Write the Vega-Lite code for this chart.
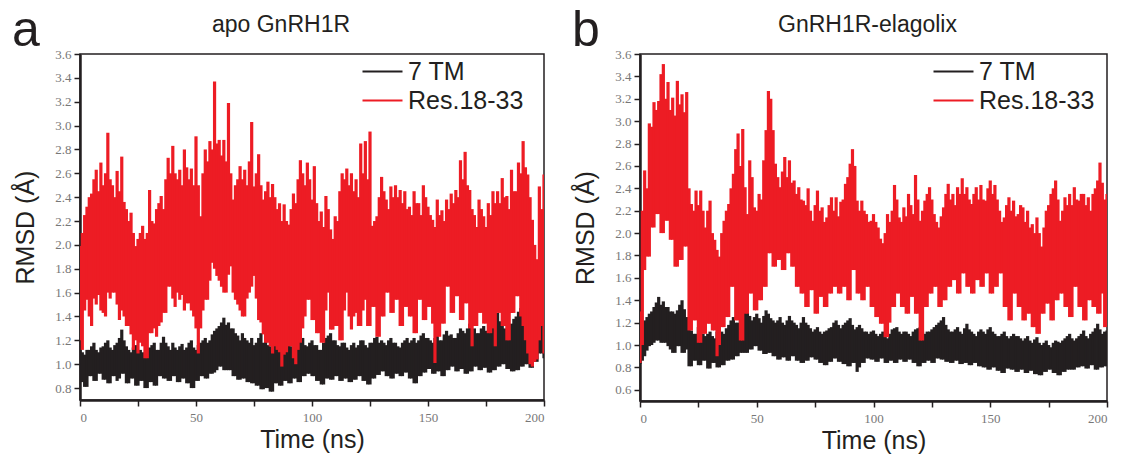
{
"$schema": "https://vega.github.io/schema/vega-lite/v6.json",
"background": "white",
"padding": {"left": 12, "top": 6, "right": 0, "bottom": 0},
"config": {
  "view": {"stroke": "#231F20", "strokeWidth": 1.5},
  "font": "Liberation Sans",
  "title": {"font": "Liberation Sans", "fontWeight": "normal", "color": "#231F20"},
  "axis": {"labelFont": "Liberation Serif", "labelFontSize": 13, "labelColor": "#777777", "labelOverlap": false, "titleFont": "Liberation Sans", "titleFontSize": 25, "titleFontWeight": "normal", "titleColor": "#231F20", "domainColor": "#231F20", "domainWidth": 2.5, "tickColor": "#231F20", "tickWidth": 1.5, "tickSize": 6, "grid": false},
  "axisX": {"labelPadding": 5, "titlePadding": 3},
  "axisY": {"labelPadding": 3, "titlePadding": 16},
  "legend": {"orient": "none", "legendX": 289, "legendY": 4, "padding": 0, "title": null, "labelFont": "Liberation Sans", "labelFontSize": 25, "labelColor": "#231F20", "labelLimit": 400, "labelOffset": 12, "symbolType": "M-1.6,0H1.6", "symbolSize": 625, "symbolStrokeWidth": 2, "rowPadding": 2},
  "concat": {"spacing": 26}
},
"datasets": {
"A": [
{"t":0,"kl":0.85,"kh":1.15,"rl":1.20,"rh":1.99},{"t":1,"kl":0.85,"kh":1.10,"rl":1.12,"rh":2.10},{"t":2,"kl":0.81,"kh":1.08,"rl":1.45,"rh":2.25},{"t":3,"kl":0.81,"kh":1.12,"rl":1.54,"rh":2.32},{"t":4,"kl":0.90,"kh":1.12,"rl":1.40,"rh":2.40},{"t":5,"kl":0.90,"kh":1.15,"rl":1.32,"rh":2.43},{"t":6,"kl":0.86,"kh":1.18,"rl":1.55,"rh":2.55},{"t":7,"kl":0.86,"kh":1.12,"rl":1.50,"rh":2.63},{"t":8,"kl":0.92,"kh":1.10,"rl":1.58,"rh":2.45},{"t":9,"kl":0.92,"kh":1.14,"rl":1.45,"rh":2.69},
{"t":10,"kl":0.87,"kh":1.15,"rl":1.43,"rh":2.50},{"t":11,"kl":0.87,"kh":1.18,"rl":1.40,"rh":2.60},{"t":12,"kl":0.84,"kh":1.20,"rl":1.60,"rh":2.94},{"t":13,"kl":0.84,"kh":1.14,"rl":1.55,"rh":2.55},{"t":14,"kl":0.90,"kh":1.12,"rl":1.60,"rh":2.50},{"t":15,"kl":0.90,"kh":1.16,"rl":1.60,"rh":2.40},{"t":16,"kl":0.86,"kh":1.18,"rl":1.50,"rh":2.62},{"t":17,"kl":0.88,"kh":1.22,"rl":1.37,"rh":2.45},{"t":18,"kl":0.92,"kh":1.29,"rl":1.45,"rh":2.74},{"t":19,"kl":0.92,"kh":1.20,"rl":1.40,"rh":2.36},
{"t":20,"kl":0.84,"kh":1.15,"rl":1.32,"rh":2.30},{"t":21,"kl":0.84,"kh":1.12,"rl":1.32,"rh":2.20},{"t":22,"kl":0.88,"kh":1.10,"rl":1.25,"rh":2.27},{"t":23,"kl":0.88,"kh":1.14,"rl":1.12,"rh":2.10},{"t":24,"kl":0.82,"kh":1.16,"rl":1.20,"rh":1.99},{"t":25,"kl":0.82,"kh":1.10,"rl":1.09,"rh":2.05},{"t":26,"kl":0.86,"kh":1.12,"rl":1.18,"rh":2.10},{"t":27,"kl":0.86,"kh":1.10,"rl":1.15,"rh":2.16},{"t":28,"kl":0.80,"kh":1.08,"rl":1.05,"rh":2.05},{"t":29,"kl":0.80,"kh":1.12,"rl":1.05,"rh":2.10},
{"t":30,"kl":0.85,"kh":1.14,"rl":1.26,"rh":2.46},{"t":31,"kl":0.85,"kh":1.16,"rl":1.26,"rh":2.20},{"t":32,"kl":0.82,"kh":1.18,"rl":1.30,"rh":2.18},{"t":33,"kl":0.82,"kh":1.12,"rl":1.23,"rh":2.30},{"t":34,"kl":0.90,"kh":1.12,"rl":1.32,"rh":2.35},{"t":35,"kl":0.90,"kh":1.18,"rl":1.35,"rh":2.41},{"t":36,"kl":0.88,"kh":1.23,"rl":1.43,"rh":2.30},{"t":37,"kl":0.88,"kh":1.18,"rl":1.43,"rh":2.55},{"t":38,"kl":0.86,"kh":1.15,"rl":1.65,"rh":2.73},{"t":39,"kl":0.86,"kh":1.12,"rl":1.65,"rh":2.60},
{"t":40,"kl":0.90,"kh":1.18,"rl":1.55,"rh":2.83},{"t":41,"kl":0.90,"kh":1.14,"rl":1.48,"rh":2.60},{"t":42,"kl":0.85,"kh":1.12,"rl":1.60,"rh":2.55},{"t":43,"kl":0.85,"kh":1.15,"rl":1.54,"rh":2.63},{"t":44,"kl":0.88,"kh":1.17,"rl":1.58,"rh":2.50},{"t":45,"kl":0.88,"kh":1.12,"rl":1.45,"rh":2.80},{"t":46,"kl":0.84,"kh":1.14,"rl":1.51,"rh":2.65},{"t":47,"kl":0.84,"kh":1.18,"rl":1.51,"rh":2.55},{"t":48,"kl":0.80,"kh":1.20,"rl":1.45,"rh":2.64},{"t":49,"kl":0.80,"kh":1.14,"rl":1.40,"rh":2.50},
{"t":50,"kl":0.86,"kh":1.12,"rl":1.30,"rh":2.91},{"t":51,"kl":0.86,"kh":1.16,"rl":1.09,"rh":2.50},{"t":52,"kl":0.90,"kh":1.18,"rl":1.30,"rh":2.24},{"t":53,"kl":0.90,"kh":1.20,"rl":1.45,"rh":2.60},{"t":54,"kl":0.88,"kh":1.22,"rl":1.54,"rh":2.80},{"t":55,"kl":0.88,"kh":1.18,"rl":1.54,"rh":2.70},{"t":56,"kl":0.92,"kh":1.20,"rl":1.70,"rh":2.87},{"t":57,"kl":0.92,"kh":1.25,"rl":1.85,"rh":2.80},{"t":58,"kl":0.93,"kh":1.28,"rl":1.80,"rh":3.37},{"t":59,"kl":0.95,"kh":1.30,"rl":1.74,"rh":2.85},
{"t":60,"kl":0.98,"kh":1.32,"rl":1.70,"rh":2.88},{"t":61,"kl":0.98,"kh":1.35,"rl":1.65,"rh":2.75},{"t":62,"kl":0.95,"kh":1.39,"rl":1.60,"rh":2.88},{"t":63,"kl":0.95,"kh":1.33,"rl":1.60,"rh":2.70},{"t":64,"kl":0.95,"kh":1.35,"rl":1.75,"rh":3.19},{"t":65,"kl":0.95,"kh":1.30,"rl":1.82,"rh":2.60},{"t":66,"kl":0.90,"kh":1.30,"rl":1.60,"rh":2.38},{"t":67,"kl":0.90,"kh":1.26,"rl":1.54,"rh":2.50},{"t":68,"kl":0.87,"kh":1.24,"rl":1.50,"rh":2.55},{"t":69,"kl":0.87,"kh":1.20,"rl":1.45,"rh":2.66},
{"t":70,"kl":0.88,"kh":1.26,"rl":1.40,"rh":2.55},{"t":71,"kl":0.88,"kh":1.22,"rl":1.40,"rh":2.63},{"t":72,"kl":0.85,"kh":1.20,"rl":1.55,"rh":2.50},{"t":73,"kl":0.85,"kh":1.18,"rl":1.60,"rh":2.70},{"t":74,"kl":0.84,"kh":1.22,"rl":1.65,"rh":3.03},{"t":75,"kl":0.84,"kh":1.16,"rl":1.74,"rh":2.49},{"t":76,"kl":0.82,"kh":1.18,"rl":1.55,"rh":2.60},{"t":77,"kl":0.82,"kh":1.22,"rl":1.37,"rh":2.76},{"t":78,"kl":0.79,"kh":1.26,"rl":1.35,"rh":2.50},{"t":79,"kl":0.79,"kh":1.18,"rl":1.25,"rh":2.38},
{"t":80,"kl":0.80,"kh":1.20,"rl":1.18,"rh":2.45},{"t":81,"kl":0.80,"kh":1.16,"rl":1.18,"rh":2.53},{"t":82,"kl":0.77,"kh":1.15,"rl":1.15,"rh":2.40},{"t":83,"kl":0.77,"kh":1.12,"rl":1.09,"rh":2.51},{"t":84,"kl":0.84,"kh":1.18,"rl":1.15,"rh":2.40},{"t":85,"kl":0.84,"kh":1.14,"rl":1.12,"rh":2.30},{"t":86,"kl":0.82,"kh":1.12,"rl":1.10,"rh":2.35},{"t":87,"kl":0.82,"kh":1.16,"rl":0.98,"rh":2.20},{"t":88,"kl":0.86,"kh":1.16,"rl":1.08,"rh":2.34},{"t":89,"kl":0.86,"kh":1.20,"rl":1.10,"rh":2.20},
{"t":90,"kl":0.84,"kh":1.20,"rl":1.15,"rh":2.17},{"t":91,"kl":0.84,"kh":1.15,"rl":1.15,"rh":2.30},{"t":92,"kl":0.88,"kh":1.14,"rl":1.05,"rh":2.43},{"t":93,"kl":0.88,"kh":1.18,"rl":1.00,"rh":2.35},{"t":94,"kl":0.85,"kh":1.18,"rl":1.12,"rh":2.55},{"t":95,"kl":0.85,"kh":1.22,"rl":1.18,"rh":2.71},{"t":96,"kl":0.90,"kh":1.22,"rl":1.30,"rh":2.60},{"t":97,"kl":0.90,"kh":1.16,"rl":1.40,"rh":2.50},{"t":98,"kl":0.92,"kh":1.15,"rl":1.54,"rh":2.69},{"t":99,"kl":0.92,"kh":1.18,"rl":1.54,"rh":2.55},
{"t":100,"kl":0.90,"kh":1.20,"rl":1.37,"rh":2.38},{"t":101,"kl":0.90,"kh":1.16,"rl":1.37,"rh":2.66},{"t":102,"kl":0.86,"kh":1.16,"rl":1.26,"rh":2.35},{"t":103,"kl":0.86,"kh":1.12,"rl":1.26,"rh":2.20},{"t":104,"kl":0.83,"kh":1.12,"rl":1.18,"rh":2.28},{"t":105,"kl":0.83,"kh":1.18,"rl":1.18,"rh":2.15},{"t":106,"kl":0.88,"kh":1.22,"rl":1.45,"rh":2.41},{"t":107,"kl":0.88,"kh":1.24,"rl":1.60,"rh":2.30},{"t":108,"kl":0.87,"kh":1.26,"rl":1.29,"rh":2.13},{"t":109,"kl":0.87,"kh":1.20,"rl":1.29,"rh":2.05},
{"t":110,"kl":0.90,"kh":1.20,"rl":1.32,"rh":2.24},{"t":111,"kl":0.90,"kh":1.16,"rl":1.32,"rh":2.20},{"t":112,"kl":0.86,"kh":1.15,"rl":1.20,"rh":2.45},{"t":113,"kl":0.86,"kh":1.18,"rl":1.20,"rh":2.60},{"t":114,"kl":0.88,"kh":1.18,"rl":1.45,"rh":2.55},{"t":115,"kl":0.88,"kh":1.14,"rl":1.60,"rh":2.64},{"t":116,"kl":0.85,"kh":1.12,"rl":1.40,"rh":2.50},{"t":117,"kl":0.85,"kh":1.16,"rl":1.29,"rh":2.60},{"t":118,"kl":0.87,"kh":1.18,"rl":1.40,"rh":2.45},{"t":119,"kl":0.87,"kh":1.14,"rl":1.43,"rh":2.55},
{"t":120,"kl":0.90,"kh":1.16,"rl":1.32,"rh":2.40},{"t":121,"kl":0.90,"kh":1.20,"rl":1.32,"rh":2.85},{"t":122,"kl":0.86,"kh":1.20,"rl":1.45,"rh":2.60},{"t":123,"kl":0.86,"kh":1.16,"rl":1.54,"rh":2.87},{"t":124,"kl":0.83,"kh":1.14,"rl":1.32,"rh":2.55},{"t":125,"kl":0.83,"kh":1.18,"rl":1.32,"rh":2.95},{"t":126,"kl":0.88,"kh":1.18,"rl":1.48,"rh":2.16},{"t":127,"kl":0.88,"kh":1.22,"rl":1.48,"rh":2.20},{"t":128,"kl":0.91,"kh":1.23,"rl":1.23,"rh":2.24},{"t":129,"kl":0.91,"kh":1.18,"rl":1.23,"rh":2.40},
{"t":130,"kl":0.94,"kh":1.20,"rl":1.40,"rh":2.57},{"t":131,"kl":0.94,"kh":1.18,"rl":1.40,"rh":2.45},{"t":132,"kl":0.90,"kh":1.16,"rl":1.60,"rh":2.38},{"t":133,"kl":0.90,"kh":1.20,"rl":1.60,"rh":2.30},{"t":134,"kl":0.88,"kh":1.22,"rl":1.43,"rh":2.49},{"t":135,"kl":0.88,"kh":1.18,"rl":1.43,"rh":2.40},{"t":136,"kl":0.92,"kh":1.18,"rl":1.54,"rh":2.50},{"t":137,"kl":0.92,"kh":1.15,"rl":1.54,"rh":2.40},{"t":138,"kl":0.90,"kh":1.14,"rl":1.32,"rh":2.46},{"t":139,"kl":0.90,"kh":1.18,"rl":1.32,"rh":2.35},
{"t":140,"kl":0.93,"kh":1.20,"rl":1.48,"rh":2.45},{"t":141,"kl":0.93,"kh":1.22,"rl":1.48,"rh":2.30},{"t":142,"kl":0.88,"kh":1.18,"rl":1.40,"rh":2.32},{"t":143,"kl":0.88,"kh":1.20,"rl":1.40,"rh":2.25},{"t":144,"kl":0.84,"kh":1.22,"rl":1.26,"rh":2.45},{"t":145,"kl":0.84,"kh":1.18,"rl":1.26,"rh":2.35},{"t":146,"kl":0.90,"kh":1.20,"rl":1.54,"rh":2.35},{"t":147,"kl":0.90,"kh":1.24,"rl":1.54,"rh":2.25},{"t":148,"kl":0.93,"kh":1.26,"rl":1.37,"rh":2.50},{"t":149,"kl":0.93,"kh":1.22,"rl":1.37,"rh":2.40},
{"t":150,"kl":0.96,"kh":1.22,"rl":1.48,"rh":2.32},{"t":151,"kl":0.96,"kh":1.20,"rl":1.48,"rh":2.25},{"t":152,"kl":0.92,"kh":1.18,"rl":1.34,"rh":2.21},{"t":153,"kl":0.92,"kh":1.22,"rl":1.01,"rh":2.15},{"t":154,"kl":0.94,"kh":1.24,"rl":1.23,"rh":2.38},{"t":155,"kl":0.94,"kh":1.20,"rl":1.23,"rh":2.25},{"t":156,"kl":0.90,"kh":1.20,"rl":1.34,"rh":2.29},{"t":157,"kl":0.90,"kh":1.25,"rl":1.34,"rh":2.20},{"t":158,"kl":0.95,"kh":1.28,"rl":1.65,"rh":2.38},{"t":159,"kl":0.95,"kh":1.24,"rl":1.65,"rh":2.30},
{"t":160,"kl":0.98,"kh":1.25,"rl":1.43,"rh":2.43},{"t":161,"kl":0.98,"kh":1.22,"rl":1.43,"rh":2.35},{"t":162,"kl":0.94,"kh":1.22,"rl":1.57,"rh":2.46},{"t":163,"kl":0.94,"kh":1.26,"rl":1.57,"rh":2.40},{"t":164,"kl":0.96,"kh":1.30,"rl":1.37,"rh":2.71},{"t":165,"kl":0.96,"kh":1.28,"rl":1.37,"rh":2.55},{"t":166,"kl":0.92,"kh":1.26,"rl":1.51,"rh":2.78},{"t":167,"kl":0.92,"kh":1.30,"rl":1.51,"rh":2.50},{"t":168,"kl":0.94,"kh":1.34,"rl":1.30,"rh":2.46},{"t":169,"kl":0.94,"kh":1.28,"rl":1.15,"rh":2.30},
{"t":170,"kl":0.98,"kh":1.30,"rl":1.32,"rh":2.25},{"t":171,"kl":0.98,"kh":1.26,"rl":1.32,"rh":2.15},{"t":172,"kl":0.95,"kh":1.26,"rl":1.43,"rh":2.38},{"t":173,"kl":0.95,"kh":1.30,"rl":1.43,"rh":2.30},{"t":174,"kl":0.97,"kh":1.32,"rl":1.34,"rh":2.24},{"t":175,"kl":0.97,"kh":1.28,"rl":1.34,"rh":2.15},{"t":176,"kl":0.93,"kh":1.28,"rl":1.26,"rh":2.35},{"t":177,"kl":0.93,"kh":1.32,"rl":1.26,"rh":2.25},{"t":178,"kl":0.95,"kh":1.36,"rl":1.30,"rh":2.45},{"t":179,"kl":0.95,"kh":1.38,"rl":1.15,"rh":2.35},
{"t":180,"kl":0.98,"kh":1.43,"rl":1.43,"rh":2.45},{"t":181,"kl":0.98,"kh":1.36,"rl":1.43,"rh":2.35},{"t":182,"kl":1.00,"kh":1.32,"rl":1.32,"rh":2.56},{"t":183,"kl":1.00,"kh":1.30,"rl":1.32,"rh":2.40},{"t":184,"kl":0.96,"kh":1.28,"rl":1.20,"rh":2.41},{"t":185,"kl":0.96,"kh":1.32,"rl":1.20,"rh":2.30},{"t":186,"kl":0.94,"kh":1.34,"rl":1.43,"rh":2.63},{"t":187,"kl":0.94,"kh":1.38,"rl":1.43,"rh":2.45},{"t":188,"kl":0.95,"kh":1.40,"rl":1.57,"rh":2.45},{"t":189,"kl":0.95,"kh":1.44,"rl":1.57,"rh":2.69},
{"t":190,"kl":0.98,"kh":1.47,"rl":1.40,"rh":2.60},{"t":191,"kl":0.98,"kh":1.42,"rl":1.32,"rh":2.87},{"t":192,"kl":1.00,"kh":1.40,"rl":1.20,"rh":2.65},{"t":193,"kl":1.00,"kh":1.35,"rl":1.09,"rh":2.59},{"t":194,"kl":0.97,"kh":1.30,"rl":1.00,"rh":2.40},{"t":195,"kl":0.97,"kh":1.33,"rl":0.98,"rh":2.21},{"t":196,"kl":1.02,"kh":1.37,"rl":1.02,"rh":2.00},{"t":197,"kl":1.02,"kh":1.30,"rl":1.04,"rh":1.88},{"t":198,"kl":1.09,"kh":1.28,"rl":1.20,"rh":2.49},{"t":199,"kl":1.09,"kh":1.35,"rl":1.32,"rh":2.30},
{"t":200,"kl":1.05,"kh":1.37,"rl":1.09,"rh":2.59}
],
"B": [
{"t":0,"kl":0.83,"kh":0.95,"rl":0.84,"rh":1.30},{"t":1,"kl":0.86,"kh":1.15,"rl":1.00,"rh":2.20},{"t":2,"kl":0.90,"kh":1.22,"rl":1.67,"rh":2.56},{"t":3,"kl":0.95,"kh":1.25,"rl":1.79,"rh":2.40},{"t":4,"kl":0.99,"kh":1.28,"rl":1.79,"rh":2.98},{"t":5,"kl":1.00,"kh":1.30,"rl":2.05,"rh":2.95},{"t":6,"kl":1.02,"kh":1.34,"rl":2.05,"rh":3.17},{"t":7,"kl":1.04,"kh":1.38,"rl":2.17,"rh":3.10},{"t":8,"kl":1.04,"kh":1.43,"rl":2.17,"rh":3.18},{"t":9,"kl":1.02,"kh":1.36,"rl":2.00,"rh":3.42},
{"t":10,"kl":1.02,"kh":1.39,"rl":2.00,"rh":3.51},{"t":11,"kl":1.02,"kh":1.34,"rl":2.11,"rh":3.20},{"t":12,"kl":0.99,"kh":1.34,"rl":2.11,"rh":3.35},{"t":13,"kl":0.96,"kh":1.30,"rl":1.94,"rh":3.10},{"t":14,"kl":0.93,"kh":1.30,"rl":1.94,"rh":3.21},{"t":15,"kl":0.93,"kh":1.28,"rl":1.70,"rh":3.05},{"t":16,"kl":0.99,"kh":1.31,"rl":1.70,"rh":3.36},{"t":17,"kl":0.99,"kh":1.36,"rl":1.76,"rh":3.15},{"t":18,"kl":0.93,"kh":1.40,"rl":1.76,"rh":3.24},{"t":19,"kl":0.93,"kh":1.32,"rl":1.88,"rh":3.08},
{"t":20,"kl":0.96,"kh":1.25,"rl":1.88,"rh":3.26},{"t":21,"kl":0.81,"kh":1.15,"rl":1.13,"rh":2.40},{"t":22,"kl":0.81,"kh":1.13,"rl":1.13,"rh":2.26},{"t":23,"kl":0.86,"kh":1.10,"rl":1.22,"rh":2.20},{"t":24,"kl":0.86,"kh":1.10,"rl":1.22,"rh":2.38},{"t":25,"kl":0.82,"kh":1.16,"rl":1.02,"rh":2.25},{"t":26,"kl":0.82,"kh":1.16,"rl":1.02,"rh":2.38},{"t":27,"kl":0.86,"kh":1.10,"rl":1.10,"rh":2.20},{"t":28,"kl":0.86,"kh":1.08,"rl":1.10,"rh":2.05},{"t":29,"kl":0.79,"kh":1.10,"rl":1.19,"rh":2.20},
{"t":30,"kl":0.79,"kh":1.12,"rl":1.19,"rh":2.29},{"t":31,"kl":0.84,"kh":1.08,"rl":1.13,"rh":2.00},{"t":32,"kl":0.84,"kh":1.06,"rl":1.13,"rh":1.94},{"t":33,"kl":0.80,"kh":1.12,"rl":0.90,"rh":1.85},{"t":34,"kl":0.80,"kh":1.16,"rl":1.00,"rh":1.79},{"t":35,"kl":0.82,"kh":1.12,"rl":1.16,"rh":2.00},{"t":36,"kl":0.82,"kh":1.10,"rl":1.16,"rh":2.11},{"t":37,"kl":0.86,"kh":1.15,"rl":1.25,"rh":2.20},{"t":38,"kl":0.86,"kh":1.18,"rl":1.25,"rh":2.26},{"t":39,"kl":0.87,"kh":1.22,"rl":1.52,"rh":2.40},
{"t":40,"kl":0.87,"kh":1.25,"rl":1.52,"rh":2.53},{"t":41,"kl":0.90,"kh":1.20,"rl":1.22,"rh":2.75},{"t":42,"kl":0.90,"kh":1.20,"rl":1.22,"rh":2.89},{"t":43,"kl":0.93,"kh":1.24,"rl":1.04,"rh":2.60},{"t":44,"kl":0.93,"kh":1.26,"rl":1.04,"rh":2.93},{"t":45,"kl":0.93,"kh":1.31,"rl":1.28,"rh":2.41},{"t":46,"kl":0.93,"kh":1.31,"rl":1.28,"rh":2.17},{"t":47,"kl":0.96,"kh":1.26,"rl":1.46,"rh":2.65},{"t":48,"kl":0.96,"kh":1.22,"rl":1.46,"rh":2.50},{"t":49,"kl":0.99,"kh":1.25,"rl":1.31,"rh":2.23},
{"t":50,"kl":0.99,"kh":1.28,"rl":1.31,"rh":2.20},{"t":51,"kl":0.95,"kh":1.24,"rl":1.40,"rh":2.35},{"t":52,"kl":0.95,"kh":1.20,"rl":1.40,"rh":2.30},{"t":53,"kl":0.92,"kh":1.26,"rl":1.52,"rh":2.65},{"t":54,"kl":0.92,"kh":1.31,"rl":1.52,"rh":2.92},{"t":55,"kl":0.93,"kh":1.28,"rl":1.82,"rh":3.27},{"t":56,"kl":0.93,"kh":1.24,"rl":1.82,"rh":3.20},{"t":57,"kl":0.90,"kh":1.22,"rl":1.70,"rh":2.92},{"t":58,"kl":0.90,"kh":1.20,"rl":1.70,"rh":2.62},{"t":59,"kl":0.87,"kh":1.22,"rl":1.76,"rh":2.50},
{"t":60,"kl":0.87,"kh":1.25,"rl":1.76,"rh":2.41},{"t":61,"kl":0.89,"kh":1.20,"rl":1.67,"rh":2.55},{"t":62,"kl":0.89,"kh":1.18,"rl":1.67,"rh":2.68},{"t":63,"kl":0.86,"kh":1.22,"rl":1.82,"rh":2.50},{"t":64,"kl":0.86,"kh":1.26,"rl":1.82,"rh":2.65},{"t":65,"kl":0.90,"kh":1.22,"rl":1.70,"rh":2.45},{"t":66,"kl":0.90,"kh":1.20,"rl":1.70,"rh":2.47},{"t":67,"kl":0.86,"kh":1.18,"rl":1.52,"rh":2.35},{"t":68,"kl":0.86,"kh":1.15,"rl":1.52,"rh":2.41},{"t":69,"kl":0.84,"kh":1.20,"rl":1.46,"rh":2.30},
{"t":70,"kl":0.84,"kh":1.25,"rl":1.46,"rh":2.29},{"t":71,"kl":0.86,"kh":1.20,"rl":1.34,"rh":2.25},{"t":72,"kl":0.86,"kh":1.18,"rl":1.34,"rh":2.40},{"t":73,"kl":0.89,"kh":1.15,"rl":1.49,"rh":2.20},{"t":74,"kl":0.89,"kh":1.12,"rl":1.49,"rh":2.11},{"t":75,"kl":0.87,"kh":1.14,"rl":1.28,"rh":2.25},{"t":76,"kl":0.87,"kh":1.16,"rl":1.28,"rh":2.38},{"t":77,"kl":0.84,"kh":1.12,"rl":1.43,"rh":2.20},{"t":78,"kl":0.84,"kh":1.10,"rl":1.43,"rh":2.23},{"t":79,"kl":0.82,"kh":1.12,"rl":1.34,"rh":2.10},
{"t":80,"kl":0.82,"kh":1.13,"rl":1.34,"rh":2.14},{"t":81,"kl":0.85,"kh":1.15,"rl":1.46,"rh":2.25},{"t":82,"kl":0.85,"kh":1.16,"rl":1.46,"rh":2.32},{"t":83,"kl":0.88,"kh":1.20,"rl":1.52,"rh":2.20},{"t":84,"kl":0.88,"kh":1.22,"rl":1.52,"rh":2.32},{"t":85,"kl":0.85,"kh":1.18,"rl":1.46,"rh":2.15},{"t":86,"kl":0.85,"kh":1.15,"rl":1.46,"rh":2.28},{"t":87,"kl":0.83,"kh":1.18,"rl":1.52,"rh":2.30},{"t":88,"kl":0.83,"kh":1.20,"rl":1.52,"rh":2.44},{"t":89,"kl":0.81,"kh":1.22,"rl":1.40,"rh":2.50},
{"t":90,"kl":0.81,"kh":1.24,"rl":1.40,"rh":2.62},{"t":91,"kl":0.84,"kh":1.18,"rl":1.67,"rh":2.75},{"t":92,"kl":0.84,"kh":1.14,"rl":1.67,"rh":2.60},{"t":93,"kl":0.76,"kh":1.16,"rl":1.46,"rh":2.29},{"t":94,"kl":0.80,"kh":1.18,"rl":1.46,"rh":2.20},{"t":95,"kl":0.84,"kh":1.15,"rl":1.40,"rh":2.29},{"t":96,"kl":0.84,"kh":1.12,"rl":1.40,"rh":2.20},{"t":97,"kl":0.88,"kh":1.12,"rl":1.52,"rh":2.17},{"t":98,"kl":0.88,"kh":1.10,"rl":1.52,"rh":2.10},{"t":99,"kl":0.87,"kh":1.12,"rl":1.34,"rh":2.11},
{"t":100,"kl":0.87,"kh":1.13,"rl":1.34,"rh":2.17},{"t":101,"kl":0.85,"kh":1.10,"rl":1.25,"rh":2.10},{"t":102,"kl":0.85,"kh":1.08,"rl":1.25,"rh":2.05},{"t":103,"kl":0.88,"kh":1.10,"rl":1.19,"rh":1.95},{"t":104,"kl":0.88,"kh":1.12,"rl":1.19,"rh":1.91},{"t":105,"kl":0.84,"kh":1.08,"rl":1.07,"rh":2.00},{"t":106,"kl":0.84,"kh":1.06,"rl":1.07,"rh":2.17},{"t":107,"kl":0.86,"kh":1.10,"rl":1.20,"rh":2.10},{"t":108,"kl":0.86,"kh":1.14,"rl":1.34,"rh":2.20},{"t":109,"kl":0.84,"kh":1.15,"rl":1.34,"rh":2.43},
{"t":110,"kl":0.84,"kh":1.16,"rl":1.46,"rh":2.30},{"t":111,"kl":0.87,"kh":1.12,"rl":1.46,"rh":2.14},{"t":112,"kl":0.87,"kh":1.10,"rl":1.34,"rh":2.10},{"t":113,"kl":0.85,"kh":1.12,"rl":1.34,"rh":2.23},{"t":114,"kl":0.85,"kh":1.12,"rl":1.28,"rh":2.15},{"t":115,"kl":0.87,"kh":1.10,"rl":1.28,"rh":2.35},{"t":116,"kl":0.87,"kh":1.08,"rl":1.43,"rh":2.25},{"t":117,"kl":0.84,"kh":1.12,"rl":1.43,"rh":2.17},{"t":118,"kl":0.84,"kh":1.14,"rl":1.28,"rh":2.52},{"t":119,"kl":0.81,"kh":1.15,"rl":1.28,"rh":2.30},
{"t":120,"kl":0.81,"kh":1.16,"rl":1.04,"rh":2.11},{"t":121,"kl":0.84,"kh":1.12,"rl":1.04,"rh":2.20},{"t":122,"kl":0.84,"kh":1.10,"rl":1.34,"rh":2.29},{"t":123,"kl":0.86,"kh":1.12,"rl":1.34,"rh":2.35},{"t":124,"kl":0.86,"kh":1.12,"rl":1.46,"rh":2.41},{"t":125,"kl":0.84,"kh":1.14,"rl":1.46,"rh":2.30},{"t":126,"kl":0.84,"kh":1.16,"rl":1.52,"rh":2.17},{"t":127,"kl":0.88,"kh":1.18,"rl":1.52,"rh":2.10},{"t":128,"kl":0.88,"kh":1.20,"rl":1.34,"rh":2.05},{"t":129,"kl":0.87,"kh":1.22,"rl":1.34,"rh":2.15},
{"t":130,"kl":0.87,"kh":1.25,"rl":1.40,"rh":2.23},{"t":131,"kl":0.85,"kh":1.18,"rl":1.40,"rh":2.35},{"t":132,"kl":0.85,"kh":1.14,"rl":1.52,"rh":2.44},{"t":133,"kl":0.84,"kh":1.12,"rl":1.52,"rh":2.30},{"t":134,"kl":0.84,"kh":1.12,"rl":1.58,"rh":2.35},{"t":135,"kl":0.86,"kh":1.14,"rl":1.58,"rh":2.25},{"t":136,"kl":0.86,"kh":1.16,"rl":1.46,"rh":2.41},{"t":137,"kl":0.83,"kh":1.12,"rl":1.46,"rh":2.35},{"t":138,"kl":0.83,"kh":1.10,"rl":1.64,"rh":2.49},{"t":139,"kl":0.84,"kh":1.15,"rl":1.64,"rh":2.35},
{"t":140,"kl":0.84,"kh":1.19,"rl":1.52,"rh":2.41},{"t":141,"kl":0.82,"kh":1.14,"rl":1.52,"rh":2.30},{"t":142,"kl":0.82,"kh":1.12,"rl":1.46,"rh":2.26},{"t":143,"kl":0.84,"kh":1.10,"rl":1.46,"rh":2.35},{"t":144,"kl":0.84,"kh":1.08,"rl":1.58,"rh":2.41},{"t":145,"kl":0.81,"kh":1.12,"rl":1.58,"rh":2.30},{"t":146,"kl":0.81,"kh":1.14,"rl":1.52,"rh":2.43},{"t":147,"kl":0.80,"kh":1.12,"rl":1.52,"rh":2.30},{"t":148,"kl":0.80,"kh":1.10,"rl":1.64,"rh":2.29},{"t":149,"kl":0.78,"kh":1.14,"rl":1.64,"rh":2.40},
{"t":150,"kl":0.78,"kh":1.16,"rl":1.46,"rh":2.47},{"t":151,"kl":0.80,"kh":1.12,"rl":1.46,"rh":2.35},{"t":152,"kl":0.80,"kh":1.10,"rl":1.52,"rh":2.43},{"t":153,"kl":0.77,"kh":1.08,"rl":1.52,"rh":2.30},{"t":154,"kl":0.77,"kh":1.08,"rl":1.64,"rh":2.20},{"t":155,"kl":0.75,"kh":1.10,"rl":1.64,"rh":2.10},{"t":156,"kl":0.75,"kh":1.12,"rl":1.34,"rh":2.14},{"t":157,"kl":0.79,"kh":1.08,"rl":1.34,"rh":2.25},{"t":158,"kl":0.79,"kh":1.06,"rl":1.22,"rh":2.32},{"t":159,"kl":0.78,"kh":1.08,"rl":1.22,"rh":2.20},
{"t":160,"kl":0.78,"kh":1.10,"rl":1.46,"rh":2.29},{"t":161,"kl":0.76,"kh":1.08,"rl":1.46,"rh":2.15},{"t":162,"kl":0.76,"kh":1.08,"rl":1.34,"rh":2.17},{"t":163,"kl":0.78,"kh":1.06,"rl":1.34,"rh":2.25},{"t":164,"kl":0.78,"kh":1.04,"rl":1.22,"rh":2.23},{"t":165,"kl":0.75,"kh":1.06,"rl":1.22,"rh":2.10},{"t":166,"kl":0.75,"kh":1.08,"rl":1.28,"rh":2.20},{"t":167,"kl":0.77,"kh":1.04,"rl":1.28,"rh":2.05},{"t":168,"kl":0.77,"kh":1.02,"rl":1.16,"rh":2.08},{"t":169,"kl":0.74,"kh":1.05,"rl":1.16,"rh":2.00},
{"t":170,"kl":0.74,"kh":1.07,"rl":1.10,"rh":2.14},{"t":171,"kl":0.73,"kh":1.02,"rl":1.10,"rh":2.00},{"t":172,"kl":0.73,"kh":1.00,"rl":1.28,"rh":1.88},{"t":173,"kl":0.76,"kh":1.02,"rl":1.28,"rh":2.05},{"t":174,"kl":0.76,"kh":1.04,"rl":1.37,"rh":2.20},{"t":175,"kl":0.78,"kh":1.00,"rl":1.37,"rh":2.25},{"t":176,"kl":0.78,"kh":0.98,"rl":1.22,"rh":2.35},{"t":177,"kl":0.75,"kh":1.02,"rl":1.22,"rh":2.40},{"t":178,"kl":0.75,"kh":1.04,"rl":1.40,"rh":2.47},{"t":179,"kl":0.73,"kh":1.03,"rl":1.40,"rh":2.30},
{"t":180,"kl":0.73,"kh":1.02,"rl":1.46,"rh":2.11},{"t":181,"kl":0.76,"kh":1.04,"rl":1.46,"rh":2.20},{"t":182,"kl":0.76,"kh":1.06,"rl":1.34,"rh":2.32},{"t":183,"kl":0.78,"kh":1.08,"rl":1.34,"rh":2.25},{"t":184,"kl":0.78,"kh":1.10,"rl":1.25,"rh":2.35},{"t":185,"kl":0.78,"kh":1.06,"rl":1.25,"rh":2.25},{"t":186,"kl":0.78,"kh":1.04,"rl":1.52,"rh":2.41},{"t":187,"kl":0.80,"kh":1.06,"rl":1.52,"rh":2.30},{"t":188,"kl":0.80,"kh":1.08,"rl":1.34,"rh":2.29},{"t":189,"kl":0.81,"kh":1.10,"rl":1.34,"rh":2.35},
{"t":190,"kl":0.81,"kh":1.13,"rl":1.22,"rh":2.35},{"t":191,"kl":0.79,"kh":1.08,"rl":1.22,"rh":2.25},{"t":192,"kl":0.79,"kh":1.06,"rl":1.40,"rh":2.32},{"t":193,"kl":0.82,"kh":1.10,"rl":1.40,"rh":2.20},{"t":194,"kl":0.82,"kh":1.12,"rl":1.34,"rh":2.35},{"t":195,"kl":0.78,"kh":1.15,"rl":1.34,"rh":2.40},{"t":196,"kl":0.78,"kh":1.19,"rl":1.28,"rh":2.47},{"t":197,"kl":0.80,"kh":1.14,"rl":1.28,"rh":2.63},{"t":198,"kl":0.80,"kh":1.10,"rl":1.46,"rh":2.45},{"t":199,"kl":0.81,"kh":1.12,"rl":1.16,"rh":2.30},
{"t":200,"kl":0.81,"kh":1.13,"rl":1.16,"rh":2.35}
]
},
"hconcat": [
{
  "title": {"text": "a", "anchor": "start", "fontSize": 50, "dx": -1, "dy": 43, "offset": 0},
  "resolve": {"scale": {"color": "independent"}, "legend": {"color": "independent"}},
  "hconcat": [{
    "title": {"text": "apo GnRH1R", "fontSize": 23, "offset": 11, "frame": "group", "dx": -31},
    "width": 464, "height": 346,
    "data": {"name": "A"},
    "encoding": {
      "x": {"field": "t", "type": "quantitative", "scale": {"domain": [0, 200], "nice": false}, "axis": {"title": "Time (ns)", "values": [0, 25, 50, 75, 100, 125, 150, 175, 200], "labelExpr": "datum.value % 50 == 0 ? datum.label : ''"}}
    },
    "layer": [
      {"mark": {"type": "rule", "strokeWidth": 3.2, "clip": true},
       "encoding": {
         "y": {"field": "kl", "type": "quantitative", "scale": {"domain": [0.7, 3.6], "nice": false, "zero": false}, "axis": {"title": "RMSD (Å)", "values": [0.8, 1.0, 1.2, 1.4, 1.6, 1.8, 2.0, 2.2, 2.4, 2.6, 2.8, 3.0, 3.2, 3.4, 3.6], "format": ".1f", "labelOverlap": false}},
         "y2": {"field": "kh"},
         "color": {"datum": "7 TM", "type": "nominal", "scale": {"domain": ["7 TM", "Res.18-33"], "range": ["#231F20", "#ED1C24"]}, "legend": {"legendX": 289}}
       }},
      {"mark": {"type": "rule", "strokeWidth": 3.2, "clip": true},
       "encoding": {
         "y": {"field": "rl", "type": "quantitative", "axis": {"title": "RMSD (Å)", "values": [0.8, 1.0, 1.2, 1.4, 1.6, 1.8, 2.0, 2.2, 2.4, 2.6, 2.8, 3.0, 3.2, 3.4, 3.6], "format": ".1f", "labelOverlap": false}},
         "y2": {"field": "rh"},
         "color": {"datum": "Res.18-33", "type": "nominal"}
       }}
    ]
  }]
},
{
  "title": {"text": "b", "anchor": "start", "fontSize": 50, "dx": -1, "dy": 43, "offset": 0},
  "resolve": {"scale": {"color": "independent"}, "legend": {"color": "independent"}},
  "hconcat": [{
    "title": {"text": "GnRH1R-elagolix", "fontSize": 23, "offset": 11, "frame": "group", "dx": -6},
    "width": 467, "height": 347,
    "data": {"name": "B"},
    "encoding": {
      "x": {"field": "t", "type": "quantitative", "scale": {"domain": [0, 200], "nice": false}, "axis": {"title": "Time (ns)", "values": [0, 25, 50, 75, 100, 125, 150, 175, 200], "labelExpr": "datum.value % 50 == 0 ? datum.label : ''"}}
    },
    "layer": [
      {"mark": {"type": "rule", "strokeWidth": 3.2, "clip": true},
       "encoding": {
         "y": {"field": "kl", "type": "quantitative", "scale": {"domain": [0.5, 3.6], "nice": false, "zero": false}, "axis": {"title": "RMSD (Å)", "values": [0.6, 0.8, 1.0, 1.2, 1.4, 1.6, 1.8, 2.0, 2.2, 2.4, 2.6, 2.8, 3.0, 3.2, 3.4, 3.6], "format": ".1f", "labelOverlap": false}},
         "y2": {"field": "kh"},
         "color": {"datum": "7 TM", "type": "nominal", "scale": {"domain": ["7 TM", "Res.18-33"], "range": ["#231F20", "#ED1C24"]}, "legend": {"legendX": 300}}
       }},
      {"mark": {"type": "rule", "strokeWidth": 3.2, "clip": true},
       "encoding": {
         "y": {"field": "rl", "type": "quantitative", "axis": {"title": "RMSD (Å)", "values": [0.6, 0.8, 1.0, 1.2, 1.4, 1.6, 1.8, 2.0, 2.2, 2.4, 2.6, 2.8, 3.0, 3.2, 3.4, 3.6], "format": ".1f", "labelOverlap": false}},
         "y2": {"field": "rh"},
         "color": {"datum": "Res.18-33", "type": "nominal"}
       }}
    ]
  }]
}
],
"resolve": {"scale": {"color": "independent"}, "legend": {"color": "independent"}}
}
